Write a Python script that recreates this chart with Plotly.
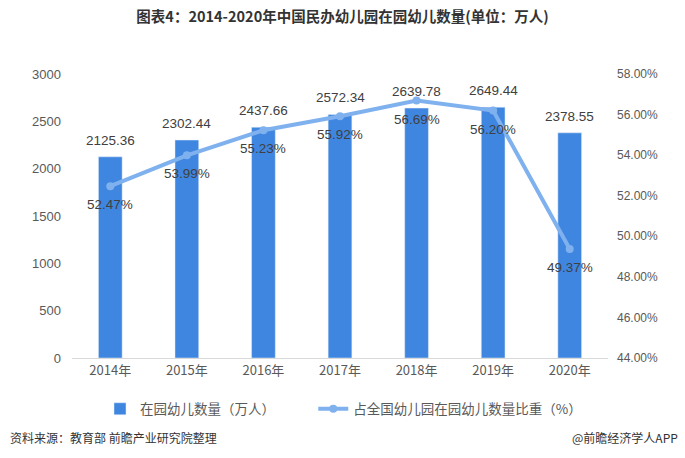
import plotly.graph_objects as go

# ─── 数据 ───────────────────────────────
ANOS = ["2014年", "2015年", "2016年", "2017年", "2018年", "2019年", "2020年"]
EM_PARQUE = [2125.36, 2302.44, 2437.66, 2572.34, 2639.78, 2649.44, 2378.55]
PROPORCAO = [52.47, 53.99, 55.23, 55.92, 56.69, 56.20, 49.37]

CORES = {
    "barra": "#3F86E0",
    "linha": "#7FB1EE",
    "texto": "#404040",
    "eixo": "#595959",
}

FONTE = "Noto Sans CJK SC, Liberation Sans, sans-serif"

fig = go.Figure()

fig.add_trace(
    go.Bar(
        x=ANOS,
        y=EM_PARQUE,
        name="在园幼儿数量（万人）" + "&nbsp;" * 11,
        marker_color=CORES["barra"],
        width=0.31,
    )
)

fig.add_trace(
    go.Scatter(
        x=ANOS,
        y=PROPORCAO,
        name="占全国幼儿园在园幼儿数量比重（%）",
        yaxis="y2",
        mode="lines+markers",
        line=dict(color=CORES["linha"], width=4),
        marker=dict(color=CORES["linha"], size=8),
        cliponaxis=False,
    )
)

# Rótulos das barras (acima) e da linha (abaixo)
for ano, v in zip(ANOS, EM_PARQUE):
    fig.add_annotation(
        x=ano, y=v, xref="x", yref="y",
        text=f"{v:.2f}", showarrow=False,
        yanchor="bottom", yshift=7,
        font=dict(size=13.5, color=CORES["texto"], family="Liberation Sans"),
    )
for ano, p in zip(ANOS, PROPORCAO):
    fig.add_annotation(
        x=ano, y=p, xref="x", yref="y2",
        text=f"{p:.2f}%", showarrow=False,
        yanchor="top", yshift=-9,
        font=dict(size=13.5, color=CORES["texto"], family="Liberation Sans"),
    )

fig.update_layout(
    width=685,
    height=458,
    plot_bgcolor="#FFFFFF",
    paper_bgcolor="#FFFFFF",
    font=dict(family=FONTE, color=CORES["texto"]),
    margin=dict(l=72, r=77, t=74, b=100),
    title=dict(
        text="<b>图表4：2014-2020年中国民办幼儿园在园幼儿数量(单位：万人)</b>",
        font=dict(size=14.5, color="#333333", family=FONTE),
        x=0.5,
        xanchor="center",
        y=0.962,
        yanchor="middle",
    ),
    xaxis=dict(
        showgrid=False,
        showline=True,
        linecolor="#D9D9D9",
        linewidth=1,
        ticks="",
        tickfont=dict(size=13, color=CORES["eixo"]),
    ),
    yaxis=dict(
        range=[0, 3000],
        dtick=500,
        showgrid=False,
        zeroline=False,
        tickfont=dict(size=13, color=CORES["eixo"], family="Liberation Sans"),
        ticklabelstandoff=10,
    ),
    yaxis2=dict(
        overlaying="y",
        side="right",
        range=[44, 58],
        dtick=2,
        tickformat=".2f",
        ticksuffix="%",
        showgrid=False,
        zeroline=False,
        tickfont=dict(size=12, color=CORES["eixo"], family="Liberation Sans"),
        ticklabelstandoff=8,
    ),
    legend=dict(
        orientation="h",
        x=(100 - 72) / 536,
        xanchor="left",
        y=-0.125,
        yanchor="top",
        font=dict(size=13.5, color=CORES["eixo"]),
        itemwidth=30,
    ),
)

fig.add_annotation(
    text="资料来源：教育部 前瞻产业研究院整理",
    xref="paper", yref="paper",
    x=-64 / 536, y=-79 / 284,
    xanchor="left", yanchor="middle",
    showarrow=False,
    font=dict(size=12, color="#333333"),
)
fig.add_annotation(
    text="@前瞻经济学人APP",
    xref="paper", yref="paper",
    x=(536 + 72) / 536, y=-79 / 284,
    xanchor="right", yanchor="middle",
    showarrow=False,
    font=dict(size=12, color="#333333"),
)

# 去掉页面默认的 8px 边距
fig.write_html(
    "out.html",
    config={"displayModeBar": False},
    post_script="document.body.style.margin='0';",
)
